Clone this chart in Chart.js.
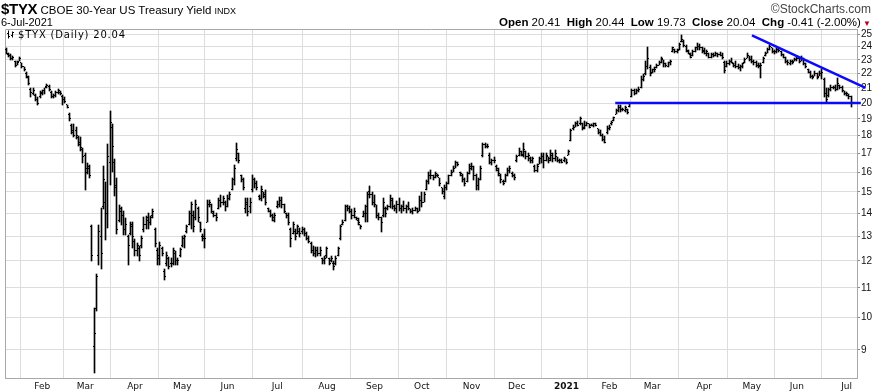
<!DOCTYPE html>
<html><head><meta charset="utf-8">
<script src="https://cdn.jsdelivr.net/npm/chart.js@4/dist/chart.umd.min.js"></script>
<style>
html,body{margin:0;padding:0;background:#fff;}
#wrap{position:relative;width:873px;height:391px;overflow:hidden;background:#fff;}
#c{position:absolute;left:0;top:0;}
.t{position:absolute;white-space:nowrap;color:#000;font-family:'Liberation Sans',Arial,sans-serif;line-height:1;}
</style></head><body>
<div id="wrap">
<canvas id="c" width="873" height="391"></canvas>
<div class="t" style="left:1px;top:1px;font-size:11.5px;"><span style="font-family:'Liberation Sans Narrow','Liberation Sans',Arial;font-weight:bold;font-size:15px;letter-spacing:-0.3px;">$TYX</span> CBOE 30-Year US Treasury Yield <span style="font-size:9px">INDX</span></div>
<div class="t" style="left:1px;top:17px;font-size:11px;">6-Jul-2021</div>
<div class="t" style="right:2px;top:3px;font-size:12px;color:#444;">©StockCharts.com</div>
<div class="t" style="right:2px;top:17px;font-size:11.5px;"><b>Open</b> 20.41&nbsp; <b>High</b> 20.44&nbsp; <b>Low</b> 19.73&nbsp; <b>Close</b> 20.04&nbsp; <b>Chg</b> -0.41 (-2.00%)<span style="color:#b0002a;font-size:8px;"> ▼</span></div>
<div class="t" style="left:6px;top:30px;font-family:'DejaVu Sans',Verdana,sans-serif;font-size:10px;letter-spacing:0.8px;"><svg width="9" height="9" style="vertical-align:-1px;margin-right:3px" viewBox="0 0 9 9"><path d="M2.5 0.5V8.5M1 3.5H2.5M2.5 6.5H4M6.5 1.5V7.5M5 5.5H6.5M6.5 2.5H8" stroke="#000" stroke-width="1" fill="none"/></svg>$TYX (Daily) 20.04</div>
</div>
<script>
// ---- data (bar index 0 = first trading day shown, Jan 2020) ----
const monthLabels = ['Feb','Mar','Apr','May','Jun','Jul','Aug','Sep','Oct','Nov','Dec','2021','Feb','Mar','Apr','May','Jun','Jul'];
const monthStarts = [16,35,57,78,98,120,142,163,184,206,226,248,267,286,309,330,350,372];
const yTicks = [9,10,11,12,13,14,15,16,17,18,19,20,21,22,23,24,25];

const openV = [
23.8,23.4,23.3,23.1,22.9,22.6,22.9,22.8,22.5,22.0,21.7,20.9,20.6,20.5,20.2,20.4,
20.6,20.8,21.1,21.1,20.7,20.4,20.5,20.7,20.7,20.4,20.2,19.9,19.3,18.6,18.2,18.3,17.9,17.6,17.2,
16.9,16.2,16.2,13.4,9.1,10.3,12.2,13.0,14.3,14.5,14.0,16.5,18.5,16.5,15.3,13.7,14.1,13.9,13.3,13.0,13.1,13.5,
12.8,12.4,12.5,12.6,13.3,13.5,13.7,13.6,13.9,13.3,12.4,12.2,12.5,11.6,11.9,12.1,11.9,11.9,12.3,12.0,12.2,
12.6,12.9,13.2,13.5,14.0,13.9,13.8,14.2,13.6,13.0,13.0,13.6,14.4,14.4,14.0,13.9,14.2,14.6,14.5,14.5,
14.3,14.7,15.1,15.6,16.7,17.0,15.8,15.6,14.2,14.5,14.3,15.1,15.6,15.4,14.8,14.7,15.0,14.9,14.2,14.1,13.9,13.7,
14.3,14.4,14.6,14.4,14.0,13.9,13.3,13.1,13.2,13.1,13.2,13.2,13.3,13.1,12.9,12.7,12.4,12.3,12.4,12.3,12.1,12.0,
12.2,12.1,12.0,11.9,11.9,12.2,12.9,13.5,13.7,14.3,14.2,14.1,13.9,13.8,13.7,13.5,13.85,14.0,14.0,15.0,14.9,
14.5,14.4,13.9,13.8,13.9,14.2,14.2,14.3,14.6,14.3,14.2,14.4,14.2,14.3,14.2,14.3,14.2,14.1,14.15,14.2,14.1,
14.6,14.5,15.1,15.5,15.8,15.8,15.7,15.8,15.7,15.2,14.8,15.2,15.4,15.8,16.0,16.2,16.5,16.0,15.8,15.6,15.5,15.9,
16.2,16.3,15.8,15.3,15.6,16.9,17.5,17.4,16.9,16.5,16.6,16.3,16.1,15.8,15.5,15.5,15.8,16.1,15.9,15.8,
16.6,16.9,17.1,16.9,17.1,16.8,16.7,16.6,16.3,16.1,16.4,16.7,16.8,16.6,16.8,16.7,16.9,16.7,16.8,16.6,16.6,16.6,
16.7,16.9,17.7,18.4,18.5,18.7,18.7,18.7,18.5,18.6,18.7,18.6,18.6,18.7,18.4,18.2,18.0,17.8,18.2,
18.4,18.7,18.9,19.3,19.5,19.7,19.6,19.5,19.6,19.8,20.4,20.8,20.6,20.8,21.0,21.6,22.0,22.5,22.4,
22.1,22.3,22.4,22.6,22.8,23.0,22.7,22.5,22.8,23.6,23.8,23.6,23.8,24.4,24.4,24.0,23.6,23.4,23.3,23.6,23.9,24.0,23.9,
23.7,23.5,23.5,23.2,23.4,23.3,23.5,23.4,23.3,22.8,22.5,22.7,22.9,22.7,22.6,22.5,22.4,22.5,22.8,23.1,23.3,
23.0,22.9,22.8,22.6,22.6,22.8,23.3,23.5,23.8,23.9,23.6,23.6,23.8,23.6,23.4,23.2,22.9,22.7,22.9,22.9,
23.0,23.1,22.9,23.1,22.7,22.3,22.1,21.8,21.8,22.0,21.8,22.0,21.6,20.6,20.5,20.9,21.0,21.0,20.9,21.2,21.0,20.8,
20.6,20.5,20.41
];
const highV = [
23.9,23.5,23.4,23.3,22.9,22.9,23.2,22.8,22.5,22.1,21.8,21.0,21.0,20.6,20.4,20.8,
20.85,21.0,21.3,21.2,20.8,20.6,20.8,20.9,20.8,20.5,20.4,19.9,19.35,18.7,18.7,18.5,18.0,17.9,17.3,
17.0,16.5,16.35,13.5,10.3,11.5,13.5,14.25,16.3,15.5,17.5,19.5,18.7,16.7,15.7,14.4,14.3,14.1,13.8,13.05,13.6,13.6,
12.9,12.7,12.6,13.0,13.85,13.9,14.0,13.9,14.2,13.35,12.5,12.75,12.55,11.7,12.35,12.15,12.1,12.5,12.4,12.1,12.5,
13.0,13.05,13.5,14.1,14.5,14.1,14.6,14.3,13.6,13.1,13.3,14.6,14.6,14.45,14.1,14.0,14.7,14.85,14.8,14.55,
14.85,15.0,15.7,16.35,17.6,17.0,15.85,15.7,14.7,14.7,14.7,15.85,15.7,15.55,14.85,15.3,15.0,15.1,14.25,14.15,13.95,14.0,
14.55,14.75,14.75,14.45,14.0,14.0,13.35,13.6,13.3,13.5,13.35,13.4,13.35,13.2,13.0,12.75,12.6,12.55,12.55,12.55,12.1,12.2,
12.55,12.1,12.2,12.0,12.2,12.55,13.5,13.7,14.4,14.4,14.35,14.2,14.25,13.85,13.8,13.5,14.1,14.4,15.0,15.3,15.0,
14.85,14.4,14.0,13.85,14.7,14.3,14.4,14.85,14.7,14.4,14.55,14.7,14.4,14.55,14.4,14.5,14.2,14.25,14.3,14.25,14.8,
15.0,15.0,15.6,16.0,16.1,15.85,16.0,15.9,15.7,15.2,15.35,15.5,15.85,16.1,16.3,16.6,16.55,16.0,15.9,15.7,16.0,16.4,
16.45,16.3,15.9,15.7,16.3,17.6,17.6,17.5,17.0,16.7,16.8,16.35,16.2,15.9,15.6,15.9,16.2,16.3,16.0,15.9,
16.9,17.3,17.1,17.6,17.1,17.0,16.8,16.8,16.35,16.4,16.8,17.0,17.0,17.0,16.8,17.2,17.0,17.2,16.8,16.7,16.7,16.8,
16.7,17.2,18.4,18.6,18.8,18.9,19.1,18.75,18.85,18.8,18.7,18.7,18.75,18.75,18.4,18.3,18.1,18.0,18.55,
18.6,18.9,19.1,19.6,19.9,19.9,19.7,19.8,19.6,20.0,20.9,20.9,20.9,21.05,21.8,22.0,22.9,24.0,22.6,
22.35,22.45,22.7,22.9,23.2,23.0,22.75,22.85,23.0,24.0,23.85,23.85,24.3,24.9,24.5,24.1,23.75,23.5,23.75,24.0,24.3,24.2,24.0,
23.9,23.75,23.5,23.5,23.5,23.6,23.55,23.6,23.5,22.9,22.9,23.0,23.1,22.75,22.9,22.7,22.6,22.75,23.15,23.5,23.3,
23.25,23.0,22.9,22.75,22.75,23.2,23.6,23.9,24.1,23.9,23.75,23.9,23.9,23.7,23.4,23.2,23.0,23.0,23.0,23.15,
23.25,23.15,23.25,23.15,22.75,22.3,22.15,21.9,22.15,22.05,22.15,22.3,21.7,21.0,21.0,21.2,21.1,21.2,21.7,21.2,21.1,20.8,
20.75,20.6,20.44
];
const lowV = [
23.4,23.2,23.0,23.0,22.5,22.6,22.9,22.4,22.2,21.7,21.2,20.4,20.5,20.1,19.9,20.3,
20.5,20.6,21.0,20.8,20.3,20.3,20.4,20.6,20.5,19.9,20.0,19.65,18.85,18.1,17.9,17.8,17.4,17.1,16.5,
15.1,15.9,15.7,12.0,8.35,10.2,11.85,11.7,14.2,12.85,13.35,15.35,16.0,14.8,13.1,13.6,13.5,13.05,13.05,11.85,13.05,12.5,
12.2,12.2,12.0,12.5,13.2,13.3,13.3,13.5,13.8,12.55,11.85,11.85,12.2,11.3,11.8,11.7,11.75,11.85,11.85,11.85,12.15,
12.55,12.5,13.15,13.5,13.3,13.2,13.7,13.6,13.2,12.8,12.5,13.6,14.3,14.0,13.85,13.65,14.2,14.3,14.4,14.1,
14.3,14.6,15.1,15.35,16.6,16.5,15.5,15.1,14.0,13.9,14.0,15.0,15.2,15.1,14.6,14.55,14.7,14.4,14.05,13.85,13.65,13.6,
14.25,14.3,14.25,14.0,13.8,13.5,12.55,13.1,12.85,13.1,12.95,13.1,13.0,12.85,12.7,12.3,12.2,12.15,12.2,12.2,11.9,11.9,
12.1,11.85,11.95,11.65,11.85,12.2,12.85,13.5,13.65,14.1,14.0,13.75,13.8,13.7,13.5,13.3,13.85,13.6,13.6,14.7,14.4,
14.3,13.8,13.7,13.2,13.85,13.85,14.15,14.25,14.2,14.1,14.0,14.1,14.0,14.1,14.0,14.15,14.0,13.95,14.1,14.0,14.1,
14.3,14.5,15.1,15.4,15.65,15.6,15.7,15.75,15.3,14.9,14.65,15.1,15.4,15.8,16.0,16.2,16.3,15.8,15.5,15.3,15.5,15.9,
16.1,15.6,15.1,15.1,15.6,16.8,17.3,17.3,16.4,16.35,16.5,16.05,15.8,15.45,15.35,15.5,15.8,15.95,15.75,15.6,
16.55,16.85,16.85,16.8,16.7,16.6,16.5,16.45,16.0,16.0,16.4,16.45,16.2,16.6,16.5,16.6,16.55,16.6,16.55,16.5,16.45,16.55,
16.4,16.9,17.7,18.3,18.5,18.55,18.6,18.35,18.4,18.55,18.45,18.55,18.5,18.55,18.1,17.95,17.7,17.55,18.1,
18.35,18.65,18.9,19.3,19.4,19.45,19.5,19.4,19.3,19.75,20.4,20.5,20.6,20.7,21.0,21.5,21.9,22.3,21.8,
22.05,22.1,22.4,22.6,22.75,22.5,22.5,22.45,22.6,23.6,23.5,23.5,23.75,24.4,24.0,23.6,23.4,23.1,23.25,23.6,23.75,23.75,23.5,
23.4,23.3,23.15,23.15,23.2,23.25,23.2,23.25,23.05,22.05,22.5,22.6,22.75,22.5,22.4,22.3,22.15,22.4,22.75,23.1,22.9,
22.75,22.6,22.5,22.4,21.7,22.75,23.25,23.5,23.75,23.5,23.45,23.5,23.6,23.3,23.15,22.8,22.65,22.6,22.7,22.9,
22.9,22.75,22.9,22.6,22.4,22.05,21.7,21.6,21.8,21.6,21.8,21.6,20.4,20.05,20.4,20.8,20.9,20.8,20.85,20.9,20.7,20.55,
20.45,20.25,19.73
];
const closeV = [
23.5,23.3,23.1,23.2,22.6,22.8,23.1,22.5,22.3,21.8,21.3,20.7,20.8,20.2,20.0,20.7,
20.8,21.0,21.2,20.9,20.4,20.5,20.7,20.8,20.6,20.2,20.1,19.7,19.0,18.3,18.0,18.0,17.5,17.3,16.8,
16.0,16.3,15.8,12.2,9.5,11.4,13.2,12.3,15.6,14.0,16.8,18.8,17.4,15.2,13.3,14.2,13.9,13.3,13.5,12.6,13.4,13.0,
12.4,12.6,12.2,12.9,13.5,13.8,13.6,13.8,14.1,12.7,12.1,12.6,12.3,11.4,12.2,11.8,11.9,12.4,12.0,12.0,12.45,
12.9,13.0,13.4,14.0,14.4,13.4,14.4,13.8,13.3,12.9,12.9,14.4,14.5,14.1,13.9,13.8,14.6,14.5,14.7,14.3,
14.7,14.9,15.6,16.2,17.2,16.6,15.6,15.2,14.4,14.1,14.5,15.6,15.4,15.2,14.7,15.1,14.8,14.5,14.1,13.9,13.8,13.9,
14.4,14.6,14.4,14.1,13.9,13.6,12.9,13.5,13.0,13.4,13.1,13.3,13.1,12.9,12.8,12.4,12.3,12.4,12.3,12.4,12.0,12.1,
12.5,11.9,12.1,11.8,12.1,12.5,13.4,13.6,14.3,14.2,14.1,13.9,14.1,13.75,13.6,13.4,14.0,14.3,14.9,14.9,14.5,
14.4,13.9,13.8,13.6,14.5,14.0,14.3,14.7,14.3,14.2,14.4,14.2,14.3,14.2,14.3,14.2,14.1,14.15,14.2,14.1,14.6,
14.5,14.9,15.5,15.8,15.8,15.7,15.9,15.8,15.4,15.0,15.2,15.4,15.8,16.0,16.2,16.5,16.4,15.9,15.6,15.4,15.9,16.3,
16.3,15.8,15.3,15.6,16.2,17.5,17.4,17.4,16.5,16.6,16.6,16.2,15.9,15.6,15.4,15.8,16.1,16.2,15.8,15.7,
16.85,17.1,16.95,17.2,16.8,16.9,16.6,16.7,16.1,16.3,16.7,16.8,16.6,16.9,16.6,17.0,16.7,17.0,16.6,16.6,16.5,16.7,
16.5,17.1,18.3,18.5,18.7,18.6,19.0,18.4,18.6,18.7,18.5,18.6,18.7,18.6,18.2,18.0,17.8,17.6,18.4,
18.5,18.8,19.1,19.5,19.7,19.6,19.6,19.7,19.4,19.95,20.8,20.6,20.8,20.9,21.6,21.8,22.5,23.1,22.0,
22.3,22.3,22.6,22.8,23.1,22.7,22.6,22.8,22.9,23.9,23.6,23.7,24.2,24.6,24.1,23.7,23.5,23.2,23.6,23.9,24.0,23.9,23.6,
23.5,23.6,23.2,23.4,23.3,23.5,23.4,23.3,23.2,22.2,22.7,22.9,22.8,22.6,22.5,22.4,22.5,22.7,23.0,23.3,23.0,
22.9,22.8,22.6,22.5,22.6,23.1,23.5,23.8,24.0,23.6,23.6,23.8,23.7,23.4,23.2,22.9,22.8,22.9,22.8,23.0,
23.1,22.9,23.1,22.7,22.5,22.1,21.8,21.7,22.0,21.7,22.0,22.1,20.6,20.2,20.9,21.0,21.0,20.9,21.3,21.0,20.8,20.6,
20.6,20.45,20.04
];
// drawn trend lines (bar index, value)
const supportX = [269.6, 378.3];
const supportY = [20.0, 20.0];
const resistX = [330.1, 380.4];
const resistY = [24.9, 21.0];

// ---- chart ----
function tickImg(side){
  const c = document.createElement('canvas'); c.width = 3; c.height = 1;
  const g = c.getContext('2d'); g.fillStyle = '#000';
  g.fillRect(side < 0 ? 0 : 2, 0, 1, 1); return c;
}
const pts = (xs, ys) => xs.map((x, i) => ({x: x, y: ys[i]}));
const idx = openV.map((_, i) => i);

const snapPlugin = {
  id: 'snap',
  afterDatasetsUpdate(chart) {
    chart.data.datasets.forEach((ds, di) => {
      if (!ds.snap) return;
      chart.getDatasetMeta(di).data.forEach(el => {
        el.x = Math.floor(el.x) + 0.5;
        if (ds.snap === 'bar') {
          el.y = Math.round(el.y); el.base = Math.round(el.base);
          if (el.base - el.y < 1) el.base = el.y + 1;
        } else {
          el.y = Math.floor(el.y) + 0.5;
        }
      });
    });
  }
};
const framePlugin = {
  id: 'frame',
  beforeDatasetsDraw(chart) {
    const {ctx, chartArea: a} = chart;
    ctx.save(); ctx.strokeStyle = '#a8a8a8'; ctx.lineWidth = 1;
    ctx.beginPath();
    ctx.moveTo(a.left + 0.5, a.bottom); ctx.lineTo(a.left + 0.5, a.top + 0.5); ctx.lineTo(a.right, a.top + 0.5);
    ctx.stroke(); ctx.restore();
  }
};

new Chart(document.getElementById('c'), {
  type: 'bar',
  data: {
    datasets: [
      {type: 'bar', data: idx.map(i => ({x: i, y: [lowV[i], highV[i]]})), backgroundColor: '#000', borderWidth: 0, barThickness: 1, snap: 'bar', order: 3},
      {type: 'line', data: idx.map(i => ({x: i, y: openV[i]})), showLine: false, pointStyle: tickImg(-1), pointRadius: 1, snap: 'pt', order: 2},
      {type: 'line', data: idx.map(i => ({x: i, y: closeV[i]})), showLine: false, pointStyle: tickImg(1), pointRadius: 1, snap: 'pt', order: 2},
      {type: 'line', data: pts(supportX, supportY), borderColor: '#0a0aff', borderWidth: 2.5, pointRadius: 0, clip: false, order: 1},
      {type: 'line', data: pts(resistX, resistY), borderColor: '#0a0aff', borderWidth: 2.5, pointRadius: 0, clip: false, order: 1}
    ]
  },
  options: {
    responsive: false, animation: false, devicePixelRatio: 1,
    layout: {padding: {top: 29, left: 4, right: 0, bottom: 0}},
    plugins: {legend: {display: false}, tooltip: {enabled: false}},
    scales: {
      x: {
        type: 'linear', min: -0.5, max: 376.6, bounds: 'data', offset: false,
        afterBuildTicks: s => { s.ticks = monthStarts.map(v => ({value: v})); },
        afterFit: s => { s.height = 13; },
        grid: {color: '#dddddd', drawTicks: false},
        border: {color: '#a8a8a8'},
        ticks: {
          autoSkip: false, maxRotation: 0, padding: 3, color: '#111',
          font: ctx => ({family: 'DejaVu Sans', size: 9, weight: monthLabels[ctx.index] === '2021' ? 'bold' : 'normal'}),
          callback: (v, i) => monthLabels[i]
        }
      },
      y: {
        type: 'logarithmic', position: 'right', min: 8.219, max: 25.41, bounds: 'data',
        afterBuildTicks: s => { s.ticks = yTicks.map(v => ({value: v})); },
        afterFit: s => { s.width = 16; },
        grid: {color: '#dddddd', tickLength: 3, tickColor: '#888'},
        border: {color: '#a8a8a8'},
        ticks: {autoSkip: false, padding: 1, color: '#111', font: {family: 'Liberation Sans', size: 10}, callback: v => String(v)}
      }
    }
  },
  plugins: [snapPlugin, framePlugin]
});
</script>
</body></html>
